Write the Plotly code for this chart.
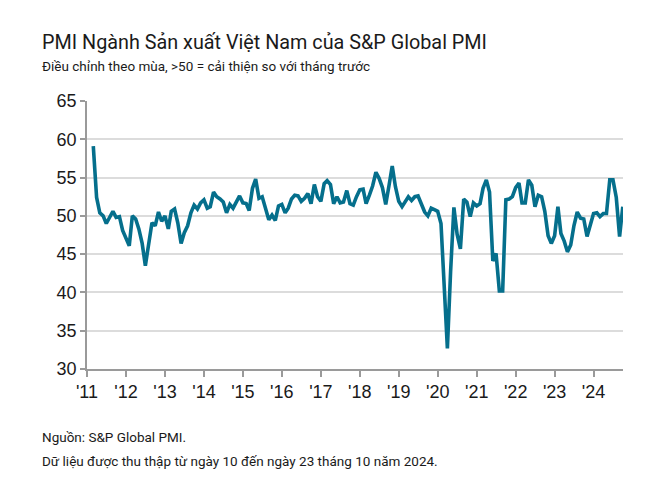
import pandas as pd
import plotly.graph_objects as go

# Monthly PMI values (Mar 2011 - Oct 2024)
pmi_2011 = [59.1, 52.4, 50.4, 50.0, 49.0, 49.7, 50.6, 49.8, 49.9, 48.1]  # Mar-Dec
pmi_2012 = [47.1, 46.1, 50.0, 49.6, 48.3, 46.4, 43.5, 46.6, 49.1, 48.7, 50.5, 49.3]
pmi_2013 = [50.0, 48.3, 50.6, 50.9, 49.1, 46.4, 47.8, 48.7, 50.4, 51.4, 50.9, 51.7]
pmi_2014 = [52.1, 51.0, 51.2, 53.1, 52.5, 52.2, 51.8, 50.4, 51.5, 51.0, 51.9, 52.6]
pmi_2015 = [51.7, 51.6, 50.7, 53.6, 54.8, 52.3, 52.5, 51.1, 49.5, 50.1, 49.4, 51.3]
pmi_2016 = [51.5, 50.4, 51.0, 52.2, 52.7, 52.6, 51.9, 52.3, 52.9, 51.6, 54.1, 52.5]
pmi_2017 = [51.9, 54.2, 54.6, 54.1, 51.6, 52.5, 51.7, 51.8, 53.3, 51.6, 51.4, 52.5]
pmi_2018 = [53.4, 53.5, 51.6, 52.7, 53.9, 55.7, 54.9, 53.7, 51.5, 53.9, 56.5, 53.8]
pmi_2019 = [51.9, 51.2, 51.9, 52.5, 52.0, 52.5, 52.6, 51.4, 50.5, 50.0, 51.0, 50.8]
pmi_2020 = [50.6, 49.0, 41.9, 32.7, 42.7, 51.1, 47.6, 45.7, 52.2, 51.8, 49.9, 51.7]
pmi_2021 = [51.3, 51.6, 53.6, 54.7, 53.1, 44.1, 45.1, 40.2, 40.2, 52.1, 52.2, 52.5]
pmi_2022 = [53.7, 54.3, 51.7, 51.7, 54.7, 54.0, 51.2, 52.7, 52.5, 50.6, 47.4, 46.4]
pmi_2023 = [47.4, 51.2, 47.7, 46.7, 45.3, 46.2, 48.7, 50.5, 49.7, 49.6, 47.3, 48.9]
pmi_2024 = [50.3, 50.4, 49.9, 50.3, 50.3, 54.7, 54.7, 52.4, 47.3, 51.2]  # Jan-Oct

values = (pmi_2011 + pmi_2012 + pmi_2013 + pmi_2014 + pmi_2015 + pmi_2016 + pmi_2017
          + pmi_2018 + pmi_2019 + pmi_2020 + pmi_2021 + pmi_2022 + pmi_2023 + pmi_2024)
dates = pd.date_range("2011-03-01", periods=len(values), freq="MS")

tick_years = list(range(2011, 2025))
tick_labels = ["'11", "'12", "'13", "'14", "'15", "'16", "'17", "'18", "'19", "'20",
               "'21", "'22", "'23", "'24"]
tick_dates = [f"{y}-01-01" for y in tick_years]

title_text = "PMI Ngành Sản xuất Việt Nam của S&P Global PMI"
subtitle_text = "Điều chỉnh theo mùa, >50 = cải thiện so với tháng trước"
source_text = "Nguồn: S&P Global PMI."
note_text = "Dữ liệu được thu thập từ ngày 10 đến ngày 23 tháng 10 năm 2024."

fig = go.Figure()
fig.add_trace(go.Scatter(
    x=dates, y=values, mode="lines",
    line=dict(color="#056f8c", width=3.6),
    hoverinfo="x+y",
))

# page body has an 8px margin, so the figure is placed at (8, 8) of the window
OFF = 8
W, H = 649, 466
L = 87 - OFF
T = 101 - OFF
R = W - (623 - OFF)
B = H - (369 - OFF)
ph = H - T - B
pw = W - L - R

def py(p):
    return (H - B - (p - OFF)) / ph

def px(p):
    return ((p - OFF) - L) / pw

text_font = "Roboto, 'Noto Sans', sans-serif"
ann = [
    dict(text=title_text, x=px(40), y=py(43), size=19.8, color="#1a1a1a"),
    dict(text=subtitle_text, x=px(40), y=py(66), size=13.5, color="#1a1a1a"),
    dict(text=source_text, x=px(40), y=py(437), size=13.5, color="#1a1a1a"),
    dict(text=note_text, x=px(40), y=py(461), size=13.5, color="#1a1a1a"),
]
for a in ann:
    fig.add_annotation(text=a["text"], x=a["x"], y=a["y"], xref="paper", yref="paper",
                       xanchor="left", yanchor="middle", showarrow=False,
                       font=dict(family=text_font, size=a["size"], color=a["color"]))

fig.update_layout(
    width=W, height=H,
    margin=dict(l=L, r=R, t=T, b=B),
    paper_bgcolor="white", plot_bgcolor="white",
    showlegend=False,
    font=dict(family="'Liberation Sans', Arial, sans-serif", color="#1a1a1a"),
)
fig.update_xaxes(
    type="date",
    range=["2011-01-01", "2024-10-03"],
    tickvals=tick_dates, ticktext=tick_labels,
    tickfont=dict(size=18, color="#1a1a1a"),
    showgrid=False, zeroline=False,
    showline=True, linecolor="#9a9a9a", linewidth=1.5,
    ticks="outside", ticklen=6, tickcolor="#9a9a9a", tickwidth=1.5,
)
fig.update_yaxes(
    range=[30, 65], dtick=5, tick0=30,
    tickfont=dict(size=18, color="#1a1a1a"),
    showgrid=True, gridcolor="#dcdcdc", gridwidth=1.5,
    zeroline=False,
    showline=True, linecolor="#9a9a9a", linewidth=1.5,
    ticks="outside", ticklen=5, tickcolor="#9a9a9a", tickwidth=1.5,
)

fig.write_html("out.html")
